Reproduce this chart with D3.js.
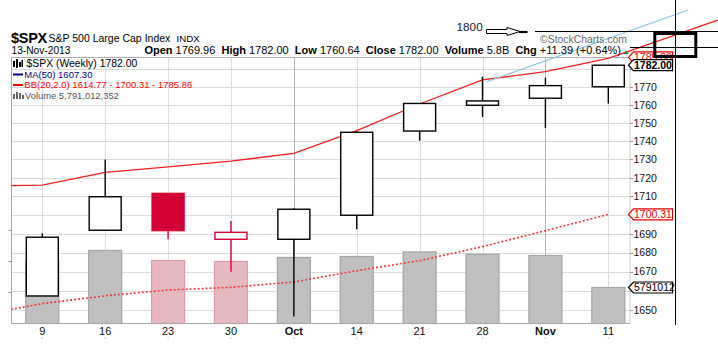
<!DOCTYPE html>
<html><head><meta charset="utf-8">
<script src="https://cdn.jsdelivr.net/npm/d3@7/dist/d3.min.js"></script>
<style>
body{margin:0;background:#fff;}
svg{display:block;}
text{font-family:"Liberation Sans",Arial,sans-serif;}
</style></head>
<body><svg id="c" width="718" height="345"></svg>
<script>
// ---- data ----
const weeks   = ["9","16","23","30","Oct","14","21","28","Nov","11"];
const monthLabels = ["Oct","Nov"];
const openV   = [1657.3,1691.9,1711.6,1687.1,1687.1,1699.9,1745.5,1759.7,1763.6,1769.96];
const highV   = [1690.3,1729.9,1711.6,1696.8,1703.6,1745.3,1760.7,1775.6,1775.0,1782.00];
const lowV    = [1657.3,1691.9,1687.1,1670.0,1646.6,1692.4,1740.2,1753.2,1747.2,1760.64];
const closeV  = [1688.2,1709.8,1691.7,1690.8,1703.1,1744.8,1760.7,1762.1,1770.6,1782.00];
const prevCloseStart = 1655.2;
const volumeB = [10.02,11.74,10.13,9.97,10.61,10.77,11.51,11.14,10.93,5.791];
const bbIndex  = [-1,0,1,2,3,4,5,6,7,8,9];
const bbUpper  = [1715.5,1716.1,1723.0,1725.9,1729.1,1733.3,1745.7,1760.4,1773.8,1778.4,1785.86];
const bbMiddle = [1647.3,1653.3,1657.4,1660.4,1661.8,1664.6,1670.5,1675.8,1683.2,1691.7,1700.31];
const upperExtIdx = [9,10.74], upperExtVal = [1785.86,1807.5];
const trendIdx = [7.07,10.27], trendVal = [1772.8,1813.2];
const yTicks = [1650,1660,1670,1680,1690,1700,1710,1720,1730,1740,1750,1760,1770,1780];
const yLabelsHidden = [1660,1700,1780]; // covered by the value tags
const volTicksB = [5,10,15];

// ---- layout ----
const L=11.5,R=630,T=57.5,B=323.5;
const svg=d3.select("#c");
const x=d3.scaleLinear().domain([0,9]).range([42.3,608.3]);
const y=d3.scaleLog().domain([1650,1770]).range([310,86.7]);
const yv=d3.scaleLinear().domain([0,10]).range([B,261.3]);
const bw=33;
const RED="#d40035";

svg.append("defs").append("clipPath").attr("id","pc")
  .append("rect").attr("x",L).attr("y",T).attr("width",R-L).attr("height",B-T);

// grid
const g=svg.append("g");
g.selectAll(".hg").data(yTicks).join("line")
 .attr("x1",L).attr("x2",R).attr("y1",d=>Math.round(y(d))+0.5).attr("y2",d=>Math.round(y(d))+0.5)
 .attr("stroke","#dcdcdc");
g.selectAll(".vg").data(weeks).join("line")
 .attr("x1",(d,i)=>Math.round(x(i))+0.5).attr("x2",(d,i)=>Math.round(x(i))+0.5)
 .attr("y1",T).attr("y2",B)
 .attr("stroke",d=>monthLabels.includes(d)?"#b4b4b4":"#dcdcdc");

// volume bars
const isDown=closeV.map((c,i)=>c<(i?closeV[i-1]:prevCloseStart));
svg.append("g").selectAll("rect").data(volumeB).join("rect")
 .attr("x",(d,i)=>x(i)-bw/2).attr("width",bw)
 .attr("y",d=>yv(d)).attr("height",d=>B-yv(d))
 .attr("fill",(d,i)=>isDown[i]?"#e6b9c1":"#c0c0c0")
 .attr("stroke",(d,i)=>isDown[i]?"#dc9aa6":"#a4a4a4").attr("stroke-width",1.2);

// borders
svg.append("line").attr("x1",L).attr("x2",R).attr("y1",T).attr("y2",T).attr("stroke","#b0b0b0");
svg.append("line").attr("x1",L).attr("x2",R).attr("y1",B).attr("y2",B).attr("stroke","#a8a8a8");
svg.append("line").attr("x1",L).attr("x2",L).attr("y1",T).attr("y2",B).attr("stroke","#a8a8a8");
svg.append("line").attr("x1",R).attr("x2",R).attr("y1",T).attr("y2",B).attr("stroke","#999").attr("stroke-dasharray","1,1");
svg.selectAll(".vt").data(volTicksB).join("line")
 .attr("x1",L-3).attr("x2",L).attr("y1",d=>Math.round(yv(d))+0.5).attr("y2",d=>Math.round(yv(d))+0.5).attr("stroke","#999");

// BB lines
const pc=svg.append("g").attr("clip-path","url(#pc)");
const bbLine=d3.line().x(d=>x(d[0])).y(d=>y(d[1]));
pc.append("path").datum(bbIndex.map((v,i)=>[v,bbMiddle[i]]))
 .attr("d",bbLine).attr("fill","none").attr("stroke","#f03838").attr("stroke-width",1.6).attr("stroke-dasharray","2,2");
pc.append("path").datum(bbIndex.map((v,i)=>[v,bbUpper[i]]))
 .attr("d",bbLine).attr("fill","none").attr("stroke","#f02020").attr("stroke-width",1.3);

// candles
const cg=svg.append("g");
weeks.forEach((w,i)=>{
  const col=isDown[i]?RED:"#000";
  const filled=closeV[i]<openV[i];
  const top=Math.max(openV[i],closeV[i]), bot=Math.min(openV[i],closeV[i]);
  cg.append("line").attr("x1",x(i)).attr("x2",x(i)).attr("y1",y(highV[i])).attr("y2",y(top)).attr("stroke",col).attr("stroke-width",1.4);
  cg.append("line").attr("x1",x(i)).attr("x2",x(i)).attr("y1",y(bot)).attr("y2",y(lowV[i])).attr("stroke",col).attr("stroke-width",1.4);
  cg.append("rect").attr("x",x(i)-bw/2+0.5).attr("width",bw-1)
    .attr("y",y(top)).attr("height",Math.max(1,y(bot)-y(top)))
    .attr("fill",filled?col:"#fff").attr("stroke",col).attr("stroke-width",1.4);
});

// y labels
svg.selectAll(".yl").data(yTicks.filter(d=>!yLabelsHidden.includes(d))).join("text")
 .attr("x",633.5).attr("y",d=>y(d)+3.8).attr("font-size","10.5px").attr("fill","#111").text(d=>d);
svg.selectAll(".yt").data(yTicks).join("line")
 .attr("x1",R).attr("x2",R+3).attr("y1",d=>Math.round(y(d))+0.5).attr("y2",d=>Math.round(y(d))+0.5).attr("stroke","#999");

// x labels
svg.selectAll(".xl").data(weeks).join("text")
 .attr("x",(d,i)=>x(i)).attr("y",334.5).attr("text-anchor","middle").attr("font-size","11px")
 .attr("font-weight",d=>monthLabels.includes(d)?"bold":"normal").attr("fill","#111").text(d=>d);
svg.selectAll(".xt").data(weeks).join("rect")
 .attr("x",(d,i)=>x(i)-0.5).attr("y",337).attr("width",1).attr("height",2).attr("fill","#ccc");

// annotations (lines drawn in data space)
const an=d3.line().x(d=>x(d[0])).y(d=>y(d[1]));
svg.append("path").datum(trendIdx.map((v,i)=>[v,trendVal[i]])).attr("d",an)
 .attr("stroke","#86c8e4").attr("stroke-width",1.2).attr("fill","none");
svg.append("path").datum(upperExtIdx.map((v,i)=>[v,upperExtVal[i]])).attr("d",an)
 .attr("stroke","#f02020").attr("stroke-width",1.3).attr("fill","none");

// tags
function tag(yc,label,col,bold){
  const x0=628.5,x1=672.5,h=5.5;
  svg.append("path").attr("d",`M${x0},${yc}L${x0+5},${yc-h}L${x1},${yc-h}L${x1},${yc+h}L${x0+5},${yc+h}Z`)
   .attr("fill","#fff").attr("stroke",col).attr("stroke-width",1.2);
  svg.append("text").attr("x",634).attr("y",yc+3.8).attr("font-size","10.5px")
   .attr("font-weight",bold?"bold":"normal").attr("fill",col).text(label);
}
tag(y(bbUpper[10])-1,d3.format(".2f")(bbUpper[10]),"#e00000",false);
tag(y(closeV[9]),d3.format(".2f")(closeV[9]),"#000",true);
tag(y(bbMiddle[10]),d3.format(".2f")(bbMiddle[10]),"#e00000",false);
tag(yv(volumeB[9]),"5791012","#000",false);

// header
svg.append("text").attr("x",11).attr("y",42.5).attr("font-size","14.5px").attr("font-weight","bold").attr("letter-spacing","-0.3").text("$SPX");
svg.append("text").attr("x",48.5).attr("y",42).attr("font-size","10.5px").text("S&P 500 Large Cap Index");
svg.append("text").attr("x",176.5).attr("y",42).attr("font-size","9.7px").text("INDX");
svg.append("text").attr("x",11.5).attr("y",54.3).attr("font-size","10.2px").text("13-Nov-2013");
const hdr=svg.append("text").attr("x",621).attr("y",54.3).attr("font-size","11px").attr("text-anchor","end");
[["Open",true],[" 1769.96  ",false],["High",true],[" 1782.00  ",false],["Low",true],[" 1760.64  ",false],
 ["Close",true],[" 1782.00  ",false],["Volume",true],[" 5.8B  ",false],["Chg",true],[" +11.39 (+0.64%)",false]]
 .forEach(([t,b])=>hdr.append("tspan").attr("font-weight",b?"bold":"normal").attr("xml:space","preserve").text(t));
svg.append("path").attr("d","M623,54L629,54L626,50.5Z").attr("fill","#2a8a2a");

// legend
const lg=svg.append("g");
[[13,61,2,6],[16,59,2,9],[19,62,2,5],[21.5,60,1.5,7]].forEach(r=>lg.append("rect").attr("x",r[0]).attr("y",r[1]).attr("width",r[2]).attr("height",r[3]).attr("fill","#000"));
lg.append("text").attr("x",26.5).attr("y",67).attr("font-family","DejaVu Sans Mono").attr("font-size","10.4px").text("$SPX (Weekly) 1782.00");
lg.append("line").attr("x1",13).attr("x2",23).attr("y1",74.5).attr("y2",74.5).attr("stroke","#000080").attr("stroke-width",2);
lg.append("text").attr("x",24.3).attr("y",77.5).attr("font-size","9.5px").attr("fill","#000080").text("MA(50) 1607.30");
lg.append("line").attr("x1",13).attr("x2",23).attr("y1",85).attr("y2",85).attr("stroke","#ff0000").attr("stroke-width",2);
lg.append("text").attr("x",24.3).attr("y",88).attr("font-size","9.5px").attr("fill","#ff0000").text("BB(20,2.0) 1614.77 - 1700.31 - 1785.86");
[[13,94,2,5],[16,92,2,7],[19,93,2,6],[22,95,2,4]].forEach(r=>lg.append("rect").attr("x",r[0]).attr("y",r[1]).attr("width",r[2]).attr("height",r[3]).attr("fill","#666"));
lg.append("text").attr("x",25).attr("y",98.5).attr("font-size","9.4px").attr("fill","#555").text("Volume 5,791,012,352");

// top-right annotations
svg.append("text").attr("x",456.5).attr("y",30.7).attr("font-size","11.8px").attr("fill","#202040").text("1800");
svg.append("path").attr("d","M486.5,29.5H507V27.5L520,31.5L507,35.5V33.5H486.5Z").attr("fill","#fff").attr("stroke","#000").attr("stroke-width",1);
svg.append("line").attr("x1",519).attr("x2",527.5).attr("y1",32).attr("y2",32).attr("stroke","#000").attr("stroke-width",2.2);
svg.append("line").attr("x1",535).attr("x2",718).attr("y1",31.5).attr("y2",31.5).attr("stroke","#000");
svg.append("line").attr("x1",630).attr("x2",718).attr("y1",47.5).attr("y2",47.5).attr("stroke","#000");
svg.append("text").attr("x",540).attr("y",42.5).attr("font-size","11.5px").attr("fill","#6a6a6a")
 .attr("textLength",87).attr("lengthAdjust","spacingAndGlyphs").text("©StockCharts.com");
svg.append("line").attr("x1",675.5).attr("x2",675.5).attr("y1",0).attr("y2",325).attr("stroke","#000");
svg.append("rect").attr("x",654.8).attr("y",33.5).attr("width",41).attr("height",23).attr("fill","none").attr("stroke","#000").attr("stroke-width",3);
</script></body></html>
